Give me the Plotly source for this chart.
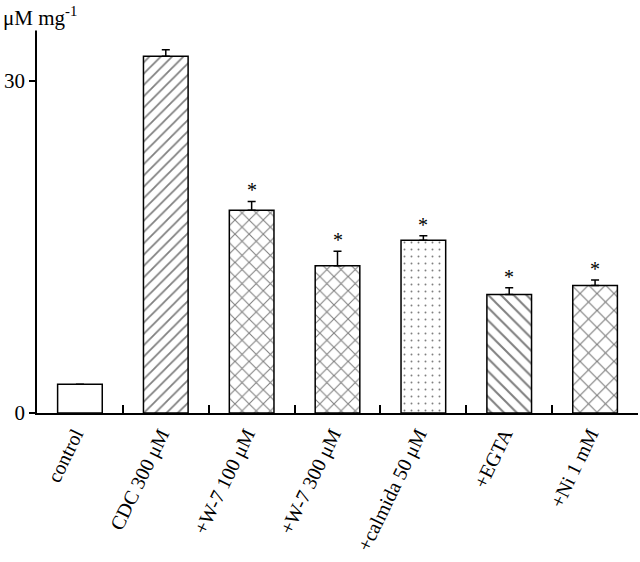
import plotly.graph_objects as go

categories = ["control", "CDC 300 μM", "+W-7 100 μM", "+W-7 300 μM",
              "+calmida 50 μM", "+EGTA", "+Ni 1 mM"]
values = [2.6, 32.2, 18.3, 13.3, 15.6, 10.7, 11.5]
errors = [0.0, 0.6, 0.8, 1.3, 0.4, 0.6, 0.5]
significant = [False, False, True, True, True, True, True]
patterns = ["", "/", "x", "x", ".", "\\", "x"]
pattern_sizes = [8, 8, 10, 10, 7, 9, 12]
pattern_solidity = [0.22, 0.22, 0.2, 0.2, 0.06, 0.22, 0.18]
y_ticks = [0, 30]

FONT = "Liberation Serif, Times New Roman, serif"

fig = go.Figure()
fig.add_trace(go.Bar(
    x=categories,
    y=values,
    width=0.52,
    marker=dict(
        color="white",
        line=dict(color="black", width=1.5),
        pattern=dict(shape=patterns, size=pattern_sizes,
                     solidity=pattern_solidity,
                     fgcolor="black", bgcolor="white", fillmode="overlay"),
    ),
    error_y=dict(type="data", symmetric=False, array=errors,
                 arrayminus=[0] * len(errors), color="black",
                 thickness=1.5, width=4),
    showlegend=False,
))

for cat, v, e, s in zip(categories, values, errors, significant):
    if s:
        fig.add_annotation(x=cat, y=v + e, text="*", showarrow=False,
                           yanchor="middle", yshift=11,
                           font=dict(family=FONT, size=20, color="black"))

fig.add_annotation(xref="paper", yref="paper", x=0, y=1, xshift=-35,
                   xanchor="left", yanchor="bottom", yshift=-9,
                   text="μM mg<sup>-1</sup>", showarrow=False,
                   bgcolor="white", borderpad=0,
                   font=dict(family=FONT, size=21, color="black"))

fig.update_layout(
    width=640, height=562,
    margin=dict(l=37, r=2, t=22, b=149, autoexpand=False),
    paper_bgcolor="white", plot_bgcolor="white",
    font=dict(family=FONT, size=20, color="black"),
)
fig.update_xaxes(
    range=[-0.5, 6.5], automargin=False,
    showline=True, linecolor="black", linewidth=1.5,
    ticks="inside", tickson="boundaries", ticklen=8, tickcolor="black",
    tickwidth=1.5, tickangle=-64, ticklabelshift=-5,
    tickfont=dict(family=FONT, size=20, color="black"),
    showgrid=False, zeroline=False,
)
fig.update_yaxes(
    range=[0, 35.3], automargin=False,
    showline=True, linecolor="black", linewidth=1.5,
    tickvals=y_ticks, ticks="outside", ticklen=6, tickcolor="black",
    tickwidth=1.5,
    tickfont=dict(family=FONT, size=21, color="black"),
    showgrid=False, zeroline=False,
)

fig.write_html(
    "out.html",
    config={"displayModeBar": False},
    post_script="document.body.style.margin='0';document.body.style.padding='0';",
)
